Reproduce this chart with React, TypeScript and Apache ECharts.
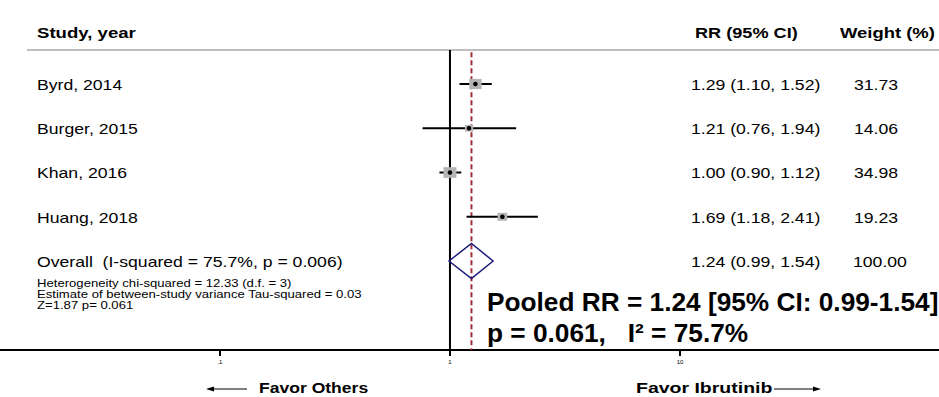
import React, { useEffect, useRef } from "react";
import * as echarts from "echarts";

// ---------- data ----------
const studies = ["Byrd, 2014", "Burger, 2015", "Khan, 2016", "Huang, 2018"];
const rrValues = [1.29, 1.21, 1.0, 1.69];
const lowerCI = [1.1, 0.76, 0.9, 1.18];
const upperCI = [1.52, 1.94, 1.12, 2.41];
const weights = [31.73, 14.06, 34.98, 19.23];
const rrLabels = ["1.29 (1.10, 1.52)", "1.21 (0.76, 1.94)", "1.00 (0.90, 1.12)", "1.69 (1.18, 2.41)"];
const weightLabels = ["31.73", "14.06", "34.98", "19.23"];

const pooledRR = 1.24;
const pooledLower = 0.99;
const pooledUpper = 1.54;
const pooledLabel = "1.24 (0.99, 1.54)";
const pooledWeight = "100.00";
const overallLabel = "Overall  (I-squared = 75.7%, p = 0.006)";
const statLines = [
  "Heterogeneity chi-squared = 12.33 (d.f. = 3)",
  "Estimate of between-study variance Tau-squared = 0.03",
  "Z=1.87 p= 0.061",
];
const pooledNotes = ["Pooled RR = 1.24 [95% CI: 0.99-1.54]", "p = 0.061,   I\u00b2 = 75.7%"];
const headers = ["Study, year", "RR (95% CI)", "Weight (%)"];
const favorLabels = ["Favor Others", "Favor Ibrutinib"];

const tickValues = [0.1, 1, 10];
const tickLabels = [".1", "1", "10"];
const axisMinRR = 0.01106;
const axisMaxRR = 133.7;

// ---------- styles ----------
const FONT = "'Liberation Sans', Arial, Helvetica, sans-serif";
const SX = 1.26;

function txt(x: number, y: number, text: string, size: number, weight: string, sx: number) {
  return {
    type: "text",
    x,
    y,
    scaleX: sx,
    style: {
      text,
      fontSize: size,
      fontWeight: weight,
      fontFamily: FONT,
      fill: "#000",
      align: "left",
      verticalAlign: "middle",
    },
  };
}

export default function App() {
  const ref = useRef<HTMLDivElement>(null);

  useEffect(() => {
    document.body.style.margin = "0";
    if (!ref.current) return;
    const chart = echarts.init(ref.current, null, { renderer: "svg" });

    const studyData = studies.map((_, i) => [
      Math.log10(rrValues[i]),
      i,
      Math.log10(lowerCI[i]),
      Math.log10(upperCI[i]),
      weights[i],
    ]);
    const overallData = [[Math.log10(pooledRR), studies.length, Math.log10(pooledLower), Math.log10(pooledUpper)]];
    const logTicks = tickValues.map((t) => Math.log10(t));

    const option: any = {
      animation: false,
      grid: { left: 0, right: 0, top: 39.75, height: 310.25, containLabel: false, outerBoundsMode: "none" },
      xAxis: {
        type: "value",
        min: Math.log10(axisMinRR),
        max: Math.log10(axisMaxRR),
        axisLine: { onZero: false, lineStyle: { color: "#000", width: 2 } },
        axisTick: { customValues: logTicks, length: 6, lineStyle: { color: "#000", width: 2 } },
        axisLabel: {
          customValues: logTicks,
          fontSize: 6,
          color: "#000",
          margin: 9,
          fontFamily: FONT,
          formatter: (v: number) => {
            const idx = logTicks.findIndex((t) => Math.abs(t - v) < 1e-6);
            return idx >= 0 ? tickLabels[idx] : "";
          },
        },
        splitLine: { show: false },
      },
      yAxis: { type: "value", inverse: true, min: -1, max: 6.011, show: false },
      series: [
        {
          type: "line",
          data: [
            [0, -0.768],
            [0, 6.011],
          ],
          symbol: "none",
          silent: true,
          z: 1,
          lineStyle: { color: "#000", width: 2 },
        },
        {
          type: "line",
          data: [
            [Math.log10(pooledRR), -0.72],
            [Math.log10(pooledRR), 6.011],
          ],
          symbol: "none",
          silent: true,
          z: 1,
          lineStyle: { color: "#9e3038", width: 2, type: [5, 3] },
        },
        {
          type: "custom",
          z: 3,
          silent: true,
          clip: false,
          encode: { x: [0, 2, 3], y: 1 },
          data: studyData,
          renderItem: (params: any, api: any) => {
            const i = params.dataIndex;
            const row = api.value(1);
            const c = api.coord([api.value(0), row]);
            const lo = api.coord([api.value(2), row]);
            const hi = api.coord([api.value(3), row]);
            const w = api.value(4);
            const sw = 2.2 * Math.sqrt(w);
            const sh = 1.8 * Math.sqrt(w);
            return {
              type: "group",
              children: [
                { type: "line", shape: { x1: lo[0], y1: c[1], x2: hi[0], y2: c[1] }, style: { stroke: "#000", lineWidth: 2 } },
                { type: "rect", shape: { x: c[0] - sw / 2, y: c[1] - sh / 2, width: sw, height: sh }, style: { fill: "#b4b4b4" } },
                { type: "circle", shape: { cx: c[0], cy: c[1], r: 2.3 }, style: { fill: "#000" } },
                txt(37, c[1] + 1, studies[i], 14, "normal", SX),
                txt(691, c[1] + 1, rrLabels[i], 14, "normal", SX),
                txt(854, c[1] + 1, weightLabels[i], 14, "normal", SX),
              ],
            };
          },
        },
        {
          type: "custom",
          z: 3,
          silent: true,
          clip: false,
          encode: { x: [0, 2, 3], y: 1 },
          data: overallData,
          renderItem: (params: any, api: any) => {
            const row = api.value(1);
            const c = api.coord([api.value(0), row]);
            const lo = api.coord([api.value(2), row]);
            const hi = api.coord([api.value(3), row]);
            const hh = 17.5;
            return {
              type: "group",
              children: [
                {
                  type: "polygon",
                  shape: {
                    points: [
                      [lo[0], c[1]],
                      [c[0], c[1] - hh],
                      [hi[0], c[1]],
                      [c[0], c[1] + hh],
                    ],
                  },
                  style: { fill: "none", stroke: "#1c1c7a", lineWidth: 1.5 },
                },
                txt(37, c[1] + 1, overallLabel, 14, "normal", SX),
                txt(691, c[1] + 1, pooledLabel, 14, "normal", SX),
                txt(853, c[1] + 1, pooledWeight, 14, "normal", SX),
                txt(37, c[1] + 22, statLines[0], 10.5, "normal", 1.25),
                txt(37, c[1] + 33, statLines[1], 10.5, "normal", 1.25),
                txt(37, c[1] + 44, statLines[2], 10.5, "normal", 1.25),
              ],
            };
          },
        },
      ],
      graphic: [
        { type: "line", shape: { x1: 27, y1: 50, x2: 939, y2: 50 }, style: { stroke: "#bfbfbf", lineWidth: 2 } },
        txt(37, 33, headers[0], 15, "bold", 1.24),
        txt(695, 33, headers[1], 15, "bold", 1.21),
        txt(840, 33, headers[2], 15, "bold", 1.23),
        txt(487, 302, pooledNotes[0], 25, "bold", 1.05),
        txt(487, 333, pooledNotes[1], 25, "bold", 1.05),
        txt(259, 387.5, favorLabels[0], 15, "bold", 1.17),
        txt(636, 387.5, favorLabels[1], 15, "bold", 1.3),
        { type: "line", shape: { x1: 212, y1: 389, x2: 247, y2: 389 }, style: { stroke: "#000", lineWidth: 1.2 } },
        { type: "polygon", shape: { points: [[206, 389], [214, 386.5], [214, 391.5]] }, style: { fill: "#000" } },
        { type: "line", shape: { x1: 774, y1: 389, x2: 814, y2: 389 }, style: { stroke: "#000", lineWidth: 1.2 } },
        { type: "polygon", shape: { points: [[821, 389], [813, 386.5], [813, 391.5]] }, style: { fill: "#000" } },
      ],
    };

    chart.setOption(option);
    return () => chart.dispose();
  }, []);

  return <div ref={ref} style={{ width: 939, height: 397 }} />;
}
